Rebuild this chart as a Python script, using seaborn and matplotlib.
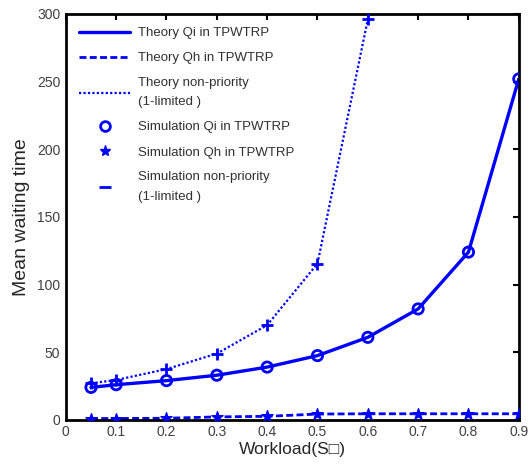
import numpy as np
import matplotlib
matplotlib.use("Agg")
import matplotlib.pyplot as plt
from matplotlib.lines import Line2D
import seaborn as sns

sns.set_theme(style="white")
plt.rcParams["font.family"] = ["Liberation Sans", "DejaVu Sans"]

# Data
workload = [0.05, 0.1, 0.2, 0.3, 0.4, 0.5, 0.6, 0.7, 0.8, 0.9]
qi_wait = [24, 26, 29, 33, 39, 47.5, 61, 82, 124, 252]
qh_wait = [1, 1, 1.2, 2.2, 2.6, 4.3, 4.5, 4.5, 4.5, 4.5]
np_workload = [0.05, 0.1, 0.2, 0.3, 0.4, 0.5, 0.6]
np_wait = [27, 29.5, 37.5, 49, 70, 115.5, 296]

blue = "#0000ff"

fig = plt.figure(figsize=(5.31, 4.66), dpi=100)
ax = fig.add_axes([0.124, 0.099, 0.853, 0.871])

# theory curves
sns.lineplot(x=workload, y=qi_wait, ax=ax, color=blue, linewidth=2.4, linestyle="-")
sns.lineplot(x=workload, y=qh_wait, ax=ax, color=blue, linewidth=2.0)
ax.lines[-1].set_linestyle((0, (2.5, 1.2)))
sns.lineplot(x=np_workload, y=np_wait, ax=ax, color=blue, linewidth=1.6)
ax.lines[-1].set_linestyle((0, (1, 1)))

# simulation markers
sns.scatterplot(x=workload, y=qi_wait, ax=ax, marker="o", s=55,
                facecolors="none", edgecolor=blue, linewidth=2.0, zorder=5)
sns.scatterplot(x=workload, y=qh_wait, ax=ax, marker="*", s=70,
                color=blue, edgecolor=blue, linewidth=1.0, zorder=5)
sns.scatterplot(x=np_workload, y=np_wait, ax=ax, marker="+", s=75,
                color=blue, linewidth=2.0, zorder=5)

ax.set_xlim(0, 0.9)
ax.set_ylim(0, 300)
ax.set_xticks(np.arange(0, 0.91, 0.1))
ax.set_xticklabels(["0", "0.1", "0.2", "0.3", "0.4", "0.5", "0.6", "0.7", "0.8", "0.9"])
ax.set_yticks(np.arange(0, 301, 50))
ax.tick_params(direction="in", top=True, right=True, length=4, width=1.5,
               labelsize=10, labelcolor="#404040", color="black", pad=4)
for lbl in ax.get_xticklabels() + ax.get_yticklabels():
    lbl.set_family(["Liberation Sans Narrow", "Liberation Sans", "DejaVu Sans"])
for sp in ax.spines.values():
    sp.set_color("black")
    sp.set_linewidth(2)

ax.set_xlabel("Workload(S\u25a1)", fontsize=12.5, labelpad=2)
ax.set_ylabel("Mean waiting time", fontsize=14, labelpad=5)

handles = [
    Line2D([], [], color=blue, linewidth=2.4, linestyle="-"),
    Line2D([], [], color=blue, linewidth=2.0, linestyle=(0, (2.5, 1.2))),
    Line2D([], [], color=blue, linewidth=1.6, linestyle=(0, (1, 1))),
    Line2D([], [], color=blue, linestyle="", marker="o", markersize=7,
           markerfacecolor="none", markeredgewidth=2),
    Line2D([], [], color=blue, linestyle="", marker="*", markersize=8),
    Line2D([], [], color=blue, linestyle="", marker="_", markersize=9, markeredgewidth=2),
]
labels = [
    "Theory Qi in TPWTRP",
    "Theory Qh in TPWTRP",
    "Theory non-priority\n(1-limited )",
    "Simulation Qi in TPWTRP",
    "Simulation Qh in TPWTRP",
    "Simulation non-priority\n(1-limited )",
]
leg = ax.legend(handles, labels, loc="upper left", frameon=False, fontsize=9.5,
                handlelength=3.9, handletextpad=0.6, labelspacing=0.97,
                borderaxespad=0.6, labelcolor="#303030")
for t in leg.get_texts():
    t.set_linespacing(1.8)

fig.savefig("out.png", dpi=100)
